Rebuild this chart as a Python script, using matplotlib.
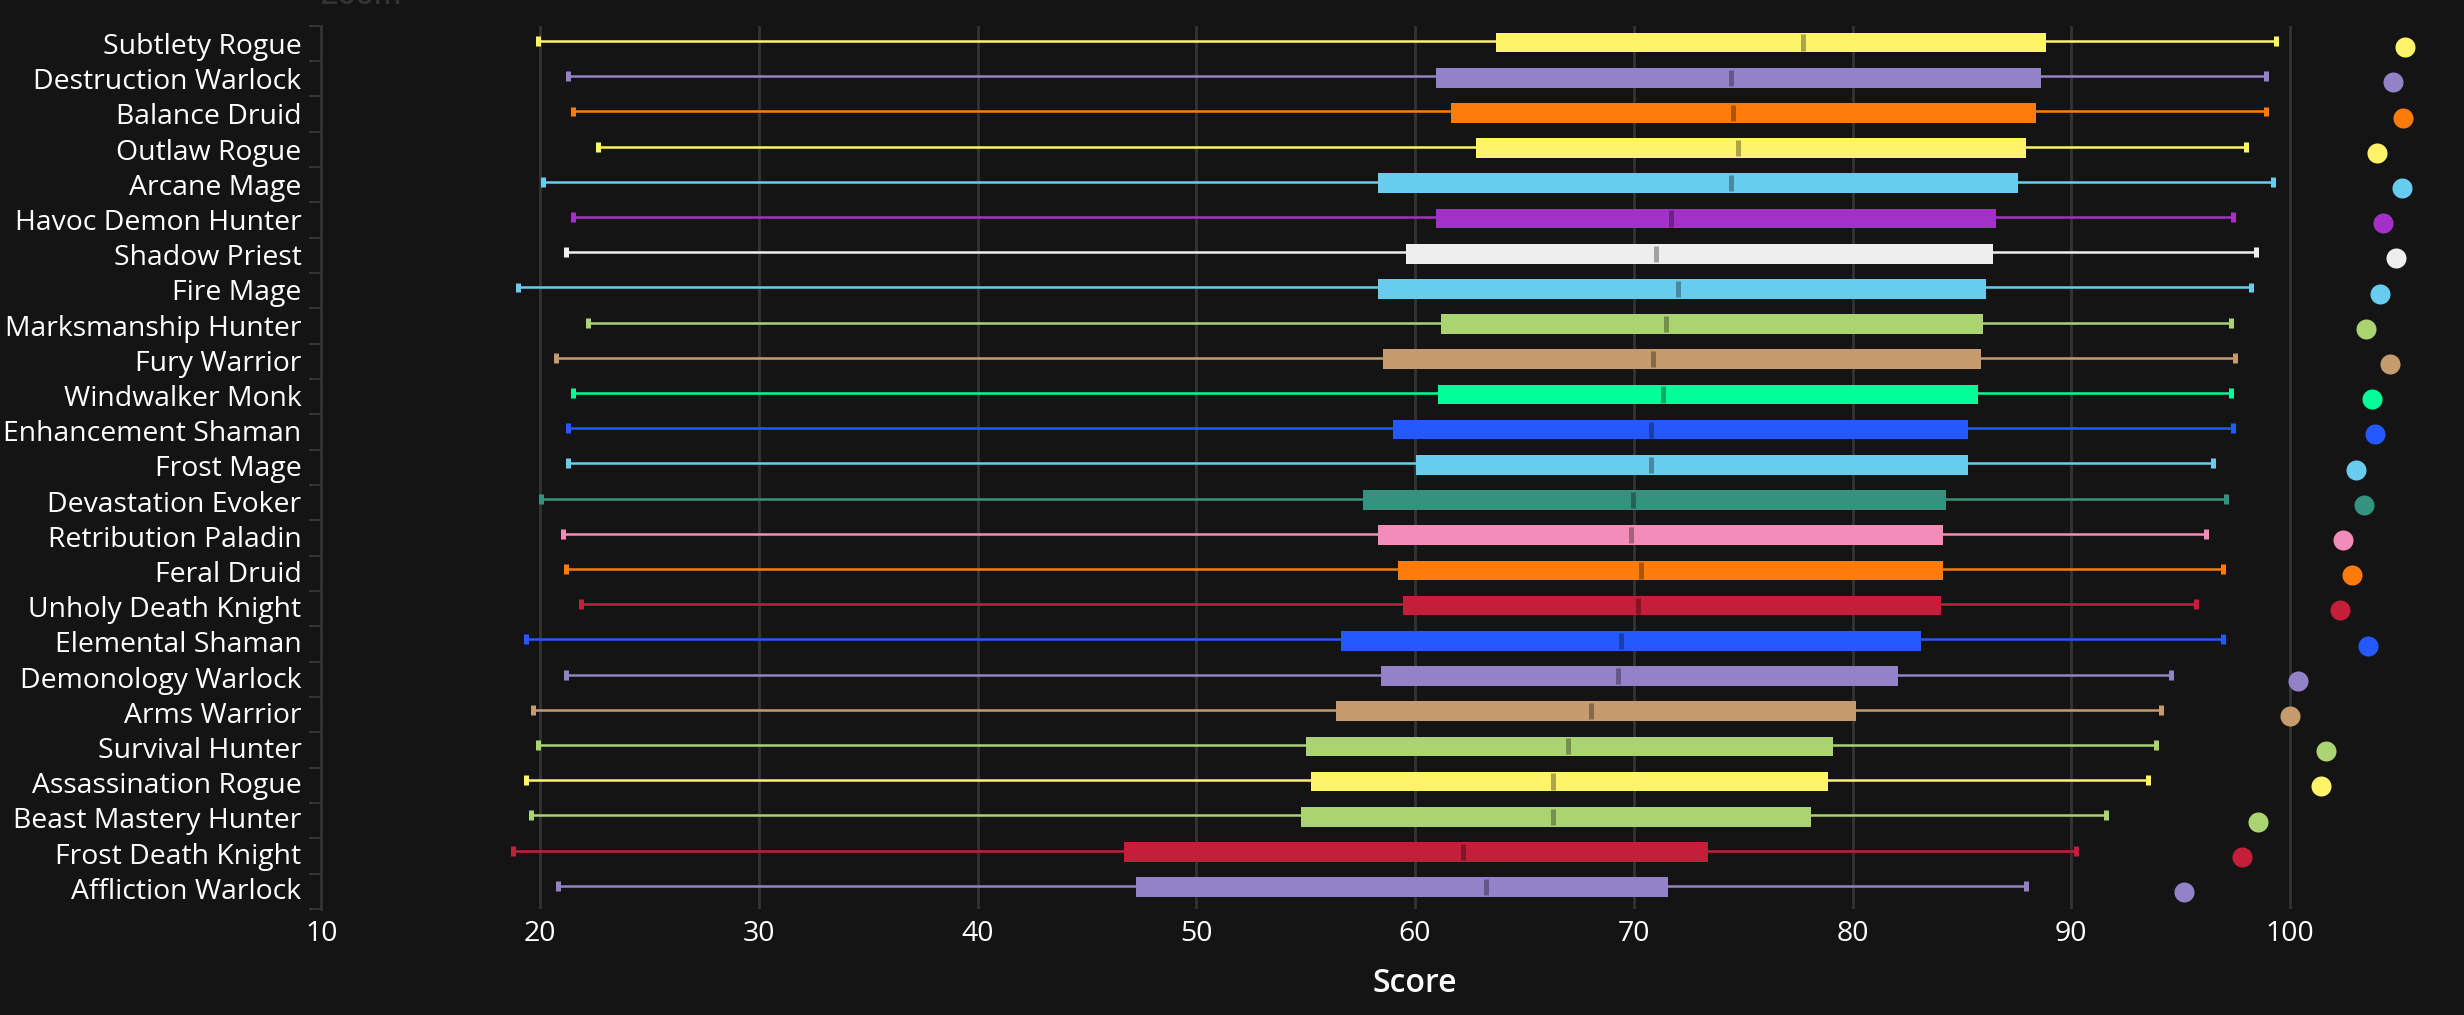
import matplotlib
matplotlib.use('Agg')
import matplotlib.pyplot as plt
import numpy as np

specs = ['Subtlety Rogue', 'Destruction Warlock', 'Balance Druid', 'Outlaw Rogue', 'Arcane Mage',
         'Havoc Demon Hunter', 'Shadow Priest', 'Fire Mage', 'Marksmanship Hunter', 'Fury Warrior',
         'Windwalker Monk', 'Enhancement Shaman', 'Frost Mage', 'Devastation Evoker', 'Retribution Paladin',
         'Feral Druid', 'Unholy Death Knight', 'Elemental Shaman', 'Demonology Warlock', 'Arms Warrior',
         'Survival Hunter', 'Assassination Rogue', 'Beast Mastery Hunter', 'Frost Death Knight', 'Affliction Warlock']

low = [19.92, 21.3, 21.52, 22.67, 20.15, 21.52, 21.19, 19.0, 22.2, 20.73, 21.52, 21.3, 21.3,
       20.05, 21.07, 21.19, 21.87, 19.36, 21.19, 19.69, 19.92, 19.36, 19.59, 18.78, 20.84]
q1 = [63.7, 60.96, 61.65, 62.8, 58.33, 60.96, 59.59, 58.33, 61.19, 58.55, 61.07, 59.0, 60.03,
      57.64, 58.33, 59.24, 59.47, 56.62, 58.45, 56.39, 55.02, 55.25, 54.79, 46.68, 47.25]
median = [77.75, 74.45, 74.55, 74.78, 74.45, 71.69, 71.02, 72.04, 71.47, 70.9, 71.35, 70.77, 70.77,
          69.98, 69.87, 70.33, 70.2, 69.42, 69.3, 68.05, 67.0, 66.32, 66.32, 62.2, 63.25]
q3 = [88.85, 88.62, 88.39, 87.93, 87.58, 86.56, 86.44, 86.1, 85.98, 85.87, 85.75, 85.3, 85.3,
      84.27, 84.15, 84.15, 84.05, 83.13, 82.1, 80.16, 79.12, 78.9, 78.1, 73.4, 71.58]
high = [99.36, 98.9, 98.9, 97.99, 99.24, 97.4, 98.45, 98.2, 97.3, 97.5, 97.3, 97.4, 96.5,
        97.07, 96.16, 96.95, 95.7, 96.95, 94.56, 94.1, 93.87, 93.5, 91.6, 90.2, 87.93]
top = [105.26, 104.7, 105.18, 103.96, 105.14, 104.25, 104.86, 104.1, 103.46, 104.57, 103.73, 103.87, 103.0,
       103.4, 102.44, 102.85, 102.3, 103.57, 100.37, 99.98, 101.63, 101.4, 98.52, 97.8, 95.17]

rogue = '#FFF468'
warlock = '#9482C9'
druid = '#FF7C0A'
mage = '#68CCEF'
dh = '#A330C9'
priest = '#EEEEEE'
hunter = '#AAD372'
warrior = '#C69B6D'
monk = '#00FF98'
shaman = '#2359FF'
evoker = '#33937F'
paladin = '#F48CBA'
dk = '#C41E3A'
colors = [rogue, warlock, druid, rogue, mage, dh, priest, mage, hunter, warrior, monk, shaman, mage,
          evoker, paladin, druid, dk, shaman, warlock, warrior, hunter, rogue, hunter, dk, warlock]

bg = '#141414'
grid_col = '#333333'
plt.rcParams['font.family'] = ['Open Sans', 'DejaVu Sans']

W, H = 2464, 1015
fig = plt.figure(figsize=(W / 100, H / 100), dpi=100, facecolor=bg)
ax = fig.add_axes([321.25 / W, 1 - 909 / H, (W - 321.25) / W, (909 - 25.7) / H], facecolor=bg)

ypos = np.arange(len(specs))
for x in range(20, 101, 10):
    ax.axvline(x, color=grid_col, lw=2, zorder=1)

for i in ypos:
    c = colors[i]
    dark = tuple(v * 0.68 for v in matplotlib.colors.to_rgb(c))
    ax.plot([low[i], high[i]], [i - 0.04, i - 0.04], color=c, lw=1.8, zorder=2, solid_capstyle='butt')
    ax.plot([low[i], low[i]], [i - 0.18, i + 0.10], color=c, lw=3.6, zorder=2, solid_capstyle='butt')
    ax.plot([high[i], high[i]], [i - 0.18, i + 0.10], color=c, lw=3.6, zorder=2, solid_capstyle='butt')
    ax.barh(i, q3[i] - q1[i], left=q1[i], height=0.56, color=c, zorder=3)
    ax.plot([median[i], median[i]], [i - 0.23, i + 0.23], color=dark, lw=3.6, zorder=4, solid_capstyle='butt')
    ax.scatter(top[i], i + 0.135, s=208, color=c, linewidths=0, zorder=5)

ax.set_xlim(10, 20 + (W - 540) / 21.875)
ax.set_ylim(24.62, -0.477)

for s in ['top', 'right', 'bottom']:
    ax.spines[s].set_visible(False)
ax.spines['left'].set_color(grid_col)
ax.spines['left'].set_linewidth(2)

ax.set_yticks(np.linspace(-0.477, 24.62, 26))
ax.set_yticklabels([])
ax.tick_params(axis='y', which='major', length=8.6, width=1.5, color=grid_col)
ax.set_yticks(ypos + 0.03, minor=True)
ax.set_yticklabels(specs, minor=True)
ax.tick_params(axis='y', which='minor', length=0, pad=14.2, labelsize=20.4, labelcolor='white')

ax.set_xticks(range(10, 101, 10))
ax.tick_params(axis='x', length=0, pad=8, labelsize=20.5, labelcolor='white')
ax.set_xlabel('Score', fontsize=23, color='white', fontweight='semibold')
ax.xaxis.set_label_coords((1415 - 321.25) / (W - 321.25), -0.066)

fig.text(321 / W, 1 - 4 / H, 'Zoom', color='#333333', fontsize=21, fontweight='semibold', va='baseline')

fig.savefig('out.png', dpi=100, facecolor=bg)
